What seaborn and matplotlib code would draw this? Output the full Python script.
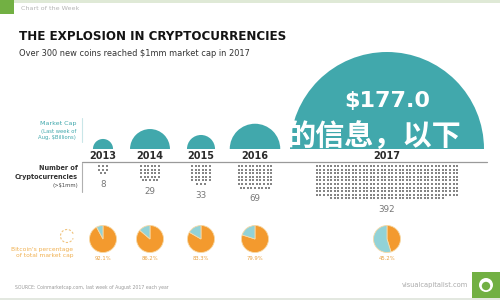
import numpy as np
import pandas as pd
import matplotlib
matplotlib.use("Agg")
import matplotlib.pyplot as plt
import matplotlib.patches as mpatches
from matplotlib import font_manager
import seaborn as sns

# ---- data ----
years = ["2013", "2014", "2015", "2016", "2017"]
market_cap = [1.9, 7.5, 3.7, 12.0, 177.0]          # USD billions
coin_counts = [8, 29, 33, 69, 392]                  # coins > $1mm
btc_share = [92.1, 86.2, 83.3, 79.9, 45.2]          # bitcoin % of total cap
pct_labels = ["92.1%", "86.2%", "83.3%", "79.9%", "45.2%"]

# ---- layout (pixel space, y measured from top) ----
W, H = 500, 300
def Y(py):
    return H - py

x_cent = [103, 150, 201, 255, 387]
grid_cols = [3, 6, 6, 10, 40]
TEAL = "#41a8ac"
TEAL_L = "#92d2d7"
ORANGE = "#f39a2e"
GREEN = "#72b043"

sns.set_theme(style="white")
plt.rcParams["font.family"] = ["DejaVu Sans", "Noto Sans CJK SC"]

# pick a condensed bold font for the headline if one is installed
title_font = None
cands = []
for f in font_manager.fontManager.ttflist:
    nm = f.name.lower()
    st = str(f.stretch).lower()
    if ("narrow" in nm or "condensed" in nm or "condensed" in st):
        w = f.weight if isinstance(f.weight, int) else (700 if "bold" in str(f.weight) else 400)
        cands.append((abs(w - 700), f.fname))
if cands:
    cands.sort()
    title_font = cands[0][1]

fig = plt.figure(figsize=(5, 3), dpi=100)
fig.patch.set_facecolor("white")
ax = fig.add_axes([0, 0, 1, 1])

# ---- frame decorations ----
ax.add_patch(mpatches.Rectangle((0, Y(2.5)), W, 2.5, color="#dfe9d6", lw=0))
ax.add_patch(mpatches.Rectangle((0, Y(14)), 14, 14, color=GREEN, lw=0))
ax.add_patch(mpatches.Rectangle((0, Y(300)), W, 2.5, color="#e3e8e0", lw=0))
ax.text(21, Y(9), "Chart of the Week", fontsize=4.6, color="#b5b5b5", va="center")

title = "THE EXPLOSION IN CRYPTOCURRENCIES"
if title_font:
    fp = font_manager.FontProperties(fname=title_font, size=13.2)
    t = ax.text(19, Y(37), title, fontproperties=fp, color="#141414", va="center")
else:
    t = ax.text(19, Y(37), title, fontsize=13.2, fontweight="bold",
                color="#141414", va="center")
fig.canvas.draw()
bb = t.get_window_extent(renderer=fig.canvas.get_renderer())
t.set_fontsize(13.2 * min(1.0, 268.0 / bb.width))

ax.text(19, Y(53), "Over 300 new coins reached $1mm market cap in 2017",
        fontsize=5.95, color="#333333", va="center")

# ---- market cap semicircles ----
k = 97 / np.sqrt(177.0)
base_y = 149
for xc, cap in zip(x_cent, market_cap):
    r = k * np.sqrt(cap)
    ax.add_patch(mpatches.Wedge((xc, Y(base_y)), r, 0, 180, color=TEAL, lw=0))
ax.text(x_cent[-1], Y(101), "$177.0", fontsize=16, fontweight="bold",
        color="white", ha="center", va="center")

ax.plot([82, 82], [Y(118), Y(142)], color="#c9e6e8", lw=0.8)
ax.text(76, Y(124), "Market Cap", fontsize=4.6, color=TEAL, ha="right", va="center")
ax.text(76, Y(131), "(Last week of", fontsize=3.8, color=TEAL, ha="right", va="center")
ax.text(76, Y(138), "Aug, $Billions)", fontsize=3.8, color=TEAL, ha="right", va="center")

# watermark text
ax.text(287, Y(136), "的信息，以下", fontsize=21, color="white",
        ha="left", va="center", family=["Noto Sans CJK SC", "DejaVu Sans"],
        fontweight="bold", zorder=5)

# ---- year labels and divider ----
for xc, yr in zip(x_cent, years):
    ax.text(xc, Y(156), yr, fontsize=7, fontweight="bold", color="#2b2b2b",
            ha="center", va="center", zorder=4)
ax.plot([82, 487], [Y(162), Y(162)], color="#9a9a9a", lw=0.9)
ax.plot([82, 82], [Y(163), Y(192)], color="#b0b0b0", lw=0.8)
ax.text(78, Y(168), "Number of", fontsize=4.7, fontweight="bold", color="#333",
        ha="right", va="center")
ax.text(78, Y(177), "Cryptocurrencies", fontsize=4.7, fontweight="bold", color="#333",
        ha="right", va="center")
ax.text(78, Y(186), "(>$1mm)", fontsize=3.8, color="#444", ha="right", va="center")

# ---- dot grids (seaborn scatter) ----
sp = 3.6
top = 166
rows = []
bottoms = []
for xc, n, cols in zip(x_cent, coin_counts, grid_cols):
    nrows = int(np.ceil(n / cols))
    for i in range(n):
        rr, cc = divmod(i, cols)
        in_row = cols if rr < nrows - 1 else n - cols * (nrows - 1)
        px = xc + (cc - (in_row - 1) / 2) * sp
        py = top + rr * sp
        rows.append({"x": px, "y": Y(py)})
    bottoms.append(top + (nrows - 1) * sp)
dots = pd.DataFrame(rows)
sns.scatterplot(data=dots, x="x", y="y", marker="s", s=3.4, color="#858585",
                linewidth=0, ax=ax, legend=False)
for xc, n, b in zip(x_cent, coin_counts, bottoms):
    ax.text(xc, Y(b + 11), str(n), fontsize=6.3, color="#777777",
            ha="center", va="center")

# ---- bitcoin share pies ----
pie_y = 239
for xc, p in zip(x_cent, btc_share):
    ax.pie([p, 100 - p], colors=[ORANGE, TEAL_L], startangle=90,
           counterclock=False, center=(xc, Y(pie_y)), radius=13.5,
           wedgeprops=dict(edgecolor="#f7d9a6", linewidth=0.6), frame=True)
for xc, lab in zip(x_cent, pct_labels):
    ax.text(xc, Y(259), lab, fontsize=3.8, color="#e8a040", ha="center", va="center")

ax.add_patch(mpatches.Arc((67, Y(236)), 13, 13, theta1=20, theta2=340,
                          color="#f0c47f", lw=0.8, ls=(0, (2, 1.5))))
ax.text(73, Y(249), "Bitcoin's percentage", fontsize=4.3, color="#f0b050",
        ha="right", va="center")
ax.text(73, Y(256), "of total market cap", fontsize=4.3, color="#f0b050",
        ha="right", va="center")

# ---- footer ----
ax.text(15, Y(287), "SOURCE: Coinmarketcap.com, last week of August 2017 each year",
        fontsize=3.3, color="#9a9a9a", va="center")
ax.text(468, Y(285), "visualcapitalist.com", fontsize=4.8, color="#a9a9a9",
        ha="right", va="center")
ax.add_patch(mpatches.Rectangle((472, Y(298)), 28, 26, color=GREEN, lw=0))
ax.add_patch(mpatches.Circle((486, Y(285)), 7, color="white", lw=0))
ax.add_patch(mpatches.Circle((486, Y(286)), 4.2, color=GREEN, lw=0))

ax.set_xlim(0, W)
ax.set_ylim(0, H)
ax.set_aspect("auto")
ax.axis("off")
fig.savefig("out.png", dpi=100, facecolor="white")
